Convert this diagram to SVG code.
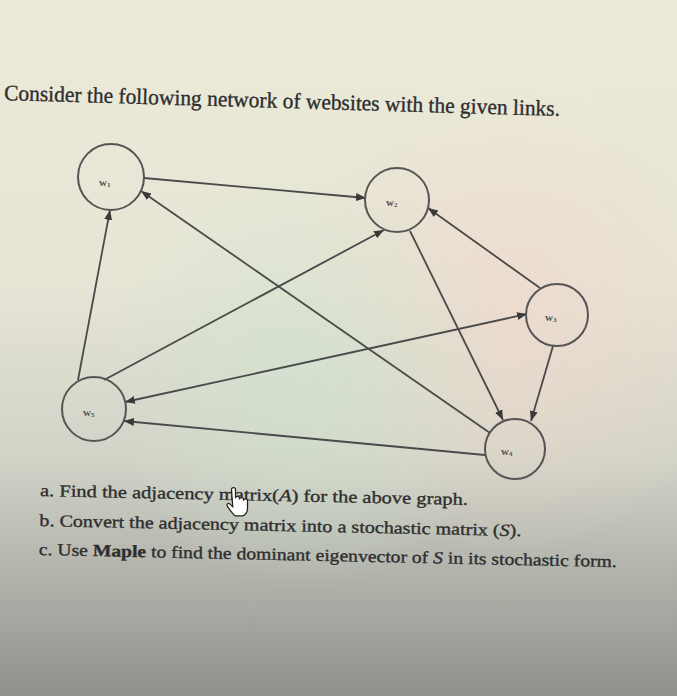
<svg xmlns="http://www.w3.org/2000/svg" width="677" height="696" viewBox="0 0 677 696">
<defs>
<linearGradient id="bg" x1="0" y1="0" x2="0" y2="1">
<stop offset="0" stop-color="#ecebd9"/>
<stop offset="0.4" stop-color="#e6e5d6"/>
<stop offset="0.66" stop-color="#d2d3c7"/>
<stop offset="0.8" stop-color="#b6b8b0"/>
<stop offset="1" stop-color="#8f918b"/>
</linearGradient>
<radialGradient id="pink" cx="0.75" cy="0.45" r="0.35">
<stop offset="0" stop-color="#f0d8cc" stop-opacity="0.7"/>
<stop offset="1" stop-color="#f0d8cc" stop-opacity="0"/>
</radialGradient>
<radialGradient id="green" cx="0.45" cy="0.55" r="0.3">
<stop offset="0" stop-color="#cfe3cf" stop-opacity="0.7"/>
<stop offset="1" stop-color="#cfe3cf" stop-opacity="0"/>
</radialGradient>
<marker id="arr" markerWidth="11" markerHeight="9" refX="10" refY="4" orient="auto-start-reverse" markerUnits="userSpaceOnUse">
<path d="M0,0 L10,4 L0,8 z" fill="#3a3a3a"/>
</marker>
<style>
.node circle{fill:none;stroke:#555;stroke-width:2}
.lbl{font-family:"Liberation Serif",serif;font-size:11px;font-weight:bold;fill:#555}
.edge{fill:none;stroke:#4a4a4a;stroke-width:1.8;marker-end:url(#arr)}
.txt{font-family:"Liberation Serif",serif;fill:#2e2e2e;stroke:#2e2e2e;stroke-width:0.35}
</style>
</defs>
<rect width="677" height="696" fill="url(#bg)"/>
<rect width="677" height="696" fill="url(#pink)"/>
<rect width="677" height="696" fill="url(#green)"/>

<text class="txt" x="4" y="100" font-size="22" textLength="556" lengthAdjust="spacingAndGlyphs" transform="rotate(1.65 4 100)">Consider the following network of websites with the given links.</text>

<g id="connectors">
<path class="edge" d="M144,178 L366,198"/>
<path class="edge" d="M78,380 L110,210"/>
<path class="edge" d="M490,433 L141,191"/>
<path class="edge" d="M104,380 L384,230"/>
<path class="edge" d="M540,288 L428,208"/>
<path class="edge" d="M410,231 L503,420"/>
<path class="edge" d="M553,346 L531,421"/>
<path class="edge" d="M125,402 L527,314" marker-start="url(#arr)"/>
<path class="edge" d="M485,455 L124,421"/>
</g>

<g id="w1" class="node"><circle cx="111" cy="177" r="33"/><text class="lbl" x="99" y="186">w<tspan font-size="7" dy="1">1</tspan></text></g>
<g id="w2" class="node"><circle cx="397" cy="200" r="32"/><text class="lbl" x="386" y="206">w<tspan font-size="7" dy="1">2</tspan></text></g>
<g id="w3" class="node"><circle cx="557" cy="315" r="31"/><text class="lbl" x="545" y="321">w<tspan font-size="7" dy="1">3</tspan></text></g>
<g id="w4" class="node"><circle cx="515" cy="449" r="30"/><text class="lbl" x="501" y="455">w<tspan font-size="7" dy="1">4</tspan></text></g>
<g id="w5" class="node"><circle cx="94" cy="409" r="32"/><text class="lbl" x="83" y="416">w<tspan font-size="7" dy="1">5</tspan></text></g>

<g transform="rotate(1.2 40 496)">
<text class="txt" x="40" y="496" font-size="17" textLength="428" lengthAdjust="spacingAndGlyphs">a.  Find the adjacency matrix(<tspan font-style="italic">A</tspan>)  for the above graph.</text>
<text class="txt" x="40" y="526" font-size="17" textLength="482" lengthAdjust="spacingAndGlyphs">b.  Convert the adjacency matrix into a stochastic matrix (<tspan font-style="italic">S</tspan>).</text>
<text class="txt" x="40" y="555" font-size="17" textLength="578" lengthAdjust="spacingAndGlyphs">c.  Use <tspan font-weight="bold">Maple</tspan> to find the dominant eigenvector of  <tspan font-style="italic">S</tspan> in its stochastic form.</text>
</g>

<g id="cursor" transform="translate(224,487) scale(1.25)">
<path d="M6,2 a1.6,1.6 0 0 1 3.2,0 v7 a1.6,1.6 0 0 1 3.2,0 v1 a1.6,1.6 0 0 1 3.2,0 v1 a1.6,1.6 0 0 1 3.2,0 v6 c0,3 -1.5,5 -3.5,6 h-6.5 c-2,-1.5 -4,-4.5 -6,-7.5 c-1,-1.5 0.3,-3 1.8,-2 l2.4,2.2 z" fill="#fff" stroke="#222" stroke-width="1"/>
</g>
</svg>
